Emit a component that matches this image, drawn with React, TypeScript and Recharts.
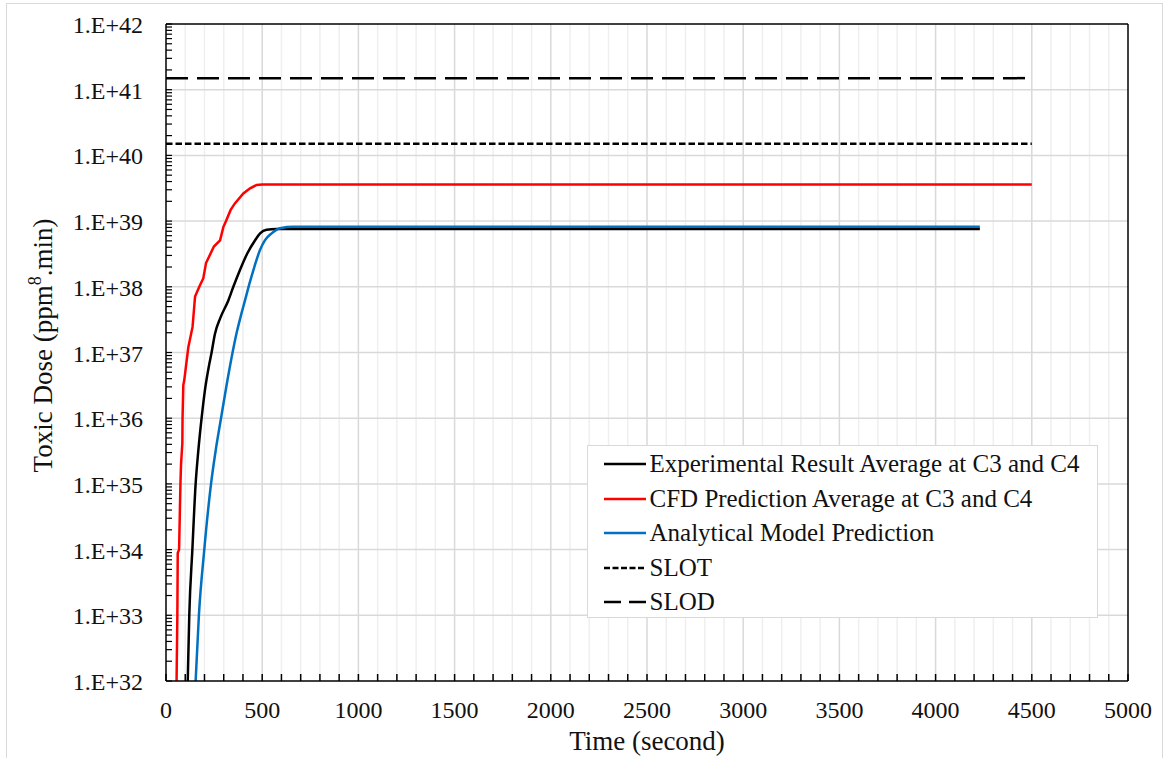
import React from "react";
import { LineChart, Line, XAxis, YAxis, ReferenceLine, Legend } from "recharts";

// time (s) and toxic dose (ppm^8.min)
const expTime = [109, 113, 121, 137, 154, 168, 185, 203, 223, 237, 254, 283, 324, 350, 385, 423, 463, 489, 523, 575, 4230];
const expDose = [3.2e31, 1e32, 1e33, 1e34, 1e35, 3.2e35, 1e36, 2.75e36, 6.2e36, 1e37, 1.9e37, 3.4e37, 6.2e37, 1e38, 1.82e38, 3.24e38, 5.1e38, 6.5e38, 7.4e38, 7.6e38, 7.6e38];

const cfdTime = [50, 55, 59, 61, 68, 75, 78, 85, 86, 90, 95, 116, 138, 151, 173, 194, 208, 249, 281, 298, 312, 336, 358, 402, 437, 471, 500, 4500];
const cfdDose = [1e31, 1e32, 1e33, 8.9e33, 1e34, 1e35, 1.95e35, 4.2e35, 1e36, 3.2e36, 3.8e36, 1.2e37, 2.45e37, 7.1e37, 1e38, 1.35e38, 2.3e38, 4.1e38, 5.1e38, 8.1e38, 1e39, 1.48e39, 1.86e39, 2.63e39, 3.16e39, 3.55e39, 3.6e39, 3.6e39];

const anaTime = [148, 154, 171, 199, 234, 258, 286, 315, 346, 369, 392, 413, 433, 459, 488, 514, 549, 593, 661, 4230];
const anaDose = [4e31, 1e32, 1e33, 1e34, 1e35, 3.2e35, 1e36, 3.2e36, 1e37, 2.1e37, 3.9e37, 6.6e37, 1.1e38, 2e38, 3.6e38, 5.1e38, 6.5e38, 7.8e38, 8.2e38, 8.2e38];

const limitTime = [0, 4500];
const slotDose = [1.5e40, 1.5e40];
const slodDose = [1.5e41, 1.5e41];

const decades = [32, 33, 34, 35, 36, 37, 38, 39, 40, 41, 42];
const timeTicks = Array.from({ length: 51 }, (_, i) => i * 100);

const FONT = "'Liberation Serif', 'Times New Roman', serif";

const zip = (ts: number[], vs: number[]) => ts.map((t, i) => ({ t, v: vs[i] }));

const doseTicks: number[] = [];
decades.forEach((d) => {
  const base = Number(`1e${d}`);
  if (d === 42) {
    doseTicks.push(base);
    return;
  }
  for (let k = 1; k <= 9; k++) doseTicks.push(k * base);
});

const isDecade = (v: number) => {
  const l = Math.log10(v);
  return Math.abs(l - Math.round(l)) < 1e-6;
};

function XTick(props: any) {
  const { x, y, payload } = props;
  const v = payload.value;
  return (
    <g>
      <line x1={x} x2={x} y1={y} y2={y - 7} stroke="#000" strokeWidth={1.5} />
      {v % 500 === 0 && (
        <text x={x} y={y + 37} textAnchor="middle" fontFamily={FONT} fontSize={24} fill="#111">
          {v}
        </text>
      )}
    </g>
  );
}

function YTick(props: any) {
  const { x, y, payload } = props;
  const v = payload.value;
  const major = isDecade(v);
  return (
    <g>
      <line x1={x} x2={x + 6} y1={y} y2={y} stroke="#000" strokeWidth={1.2} />
      {major && (
        <text x={x - 23} y={y + 9} textAnchor="end" fontFamily={FONT} fontSize={24} fill="#111">
          {`1.E+${Math.round(Math.log10(v))}`}
        </text>
      )}
    </g>
  );
}

const legendItems = [
  { name: "Experimental Result Average at C3 and C4", color: "#000", dash: undefined },
  { name: "CFD Prediction Average at C3 and C4", color: "#ff0000", dash: undefined },
  { name: "Analytical Model Prediction", color: "#0070c0", dash: undefined },
  { name: "SLOT", color: "#000", dash: "6 2.5" },
  { name: "SLOD", color: "#000", dash: "17 8" },
];

function LegendBox() {
  return (
    <div
      style={{
        width: 511,
        height: 173,
        boxSizing: "border-box",
        border: "1.5px solid #d9d9d9",
        background: "#fff",
        paddingTop: 1,
        fontFamily: FONT,
        fontSize: 25,
        color: "#111",
      }}
    >
      {legendItems.map((it) => (
        <div key={it.name} style={{ height: 34.5, display: "flex", alignItems: "center", whiteSpace: "nowrap" }}>
          <svg width={42} height={6} style={{ marginLeft: 15.5, flex: "none" }}>
            <line x1={0} x2={42} y1={3} y2={3} stroke={it.color} strokeWidth={2.5} strokeDasharray={it.dash} />
          </svg>
          <span style={{ marginLeft: 4 }}>{it.name}</span>
        </div>
      ))}
    </div>
  );
}

function YTitle(props: any) {
  const { viewBox } = props;
  const cx = 52;
  const cy = viewBox.y + viewBox.height / 2 - 7;
  return (
    <text
      x={cx}
      y={cy}
      transform={`rotate(-90, ${cx}, ${cy})`}
      textAnchor="middle"
      fontFamily={FONT}
      fontSize={27}
      fill="#111"
    >
      Toxic Dose (ppm
      <tspan dy={-11} fontSize={18}>8</tspan>
      <tspan dy={11}>.min)</tspan>
    </text>
  );
}

function XTitle(props: any) {
  const { viewBox } = props;
  return (
    <text x={viewBox.x + viewBox.width / 2} y={750} textAnchor="middle" fontFamily={FONT} fontSize={27} fill="#111">
      Time (second)
    </text>
  );
}

export default function App() {
  const minorX = timeTicks.filter((t) => t > 0 && t < 5000);
  const gridY = decades.filter((d) => d > 32 && d < 42).map((d) => Number(`1e${d}`));

  return (
    <div style={{ position: "absolute", left: 0, top: 0, width: 1164, height: 758, overflow: "hidden", background: "#fff" }}>
      <div
        style={{
          position: "absolute",
          left: 6,
          top: 3,
          width: 1157,
          height: 800,
          border: "1.5px solid #d9d9d9",
          boxSizing: "border-box",
        }}
      />
      <div style={{ position: "absolute", left: 0, top: 0 }}>
        <LineChart width={1164} height={758} margin={{ top: 24, right: 36, bottom: 17, left: 36 }}>
          <XAxis
            type="number"
            dataKey="t"
            domain={[0, 5000]}
            ticks={timeTicks}
            interval={0}
            tickSize={0}
            tickMargin={0}
            tick={<XTick />}
            height={60}
            axisLine={{ stroke: "#000", strokeWidth: 1.5 }}
            tickLine={false}
            label={{ content: <XTitle /> }}
          />
          <YAxis
            type="number"
            scale="log"
            domain={[1e32, 1e42]}
            allowDataOverflow
            ticks={doseTicks}
            interval={0}
            tickSize={0}
            tickMargin={0}
            tick={<YTick />}
            width={130}
            axisLine={{ stroke: "#000", strokeWidth: 1.5 }}
            tickLine={false}
            label={{ content: <YTitle /> }}
          />
          {minorX.map((t) => (
            <ReferenceLine
              key={`vx${t}`}
              x={t}
              stroke={t % 500 === 0 ? "#d9d9d9" : "#efefef"}
              strokeWidth={1.5}
            />
          ))}
          {gridY.map((v) => (
            <ReferenceLine key={`hy${v}`} y={v} stroke="#d9d9d9" strokeWidth={1.5} />
          ))}
          <ReferenceLine x={5000} stroke="#000" strokeWidth={1.5} />
          <ReferenceLine y={1e42} stroke="#000" strokeWidth={1.5} />
          <Line
            data={zip(limitTime, slodDose)}
            dataKey="v"
            name="SLOD"
            stroke="#000"
            strokeWidth={2.5}
            strokeDasharray="22 9"
            dot={false}
            type="linear"
            isAnimationActive={false}
          />
          <Line
            data={zip(limitTime, slotDose)}
            dataKey="v"
            name="SLOT"
            stroke="#000"
            strokeWidth={2.5}
            strokeDasharray="6.5 3"
            dot={false}
            type="linear"
            isAnimationActive={false}
          />
          <Line
            data={zip(cfdTime, cfdDose)}
            dataKey="v"
            name="CFD Prediction Average at C3 and C4"
            stroke="#ff0000"
            strokeWidth={2.5}
            dot={false}
            type="linear"
            isAnimationActive={false}
          />
          <Line
            data={zip(expTime, expDose)}
            dataKey="v"
            name="Experimental Result Average at C3 and C4"
            stroke="#000"
            strokeWidth={2.5}
            dot={false}
            type="monotone"
            isAnimationActive={false}
          />
          <Line
            data={zip(anaTime, anaDose)}
            dataKey="v"
            name="Analytical Model Prediction"
            stroke="#0070c0"
            strokeWidth={2.5}
            dot={false}
            type="monotone"
            isAnimationActive={false}
          />
          <Legend
            layout="vertical"
            align="center"
            verticalAlign="middle"
            wrapperStyle={{ left: 587, top: 445, width: 511, height: 173 }}
            content={() => <LegendBox />}
          />
        </LineChart>
      </div>
    </div>
  );
}
